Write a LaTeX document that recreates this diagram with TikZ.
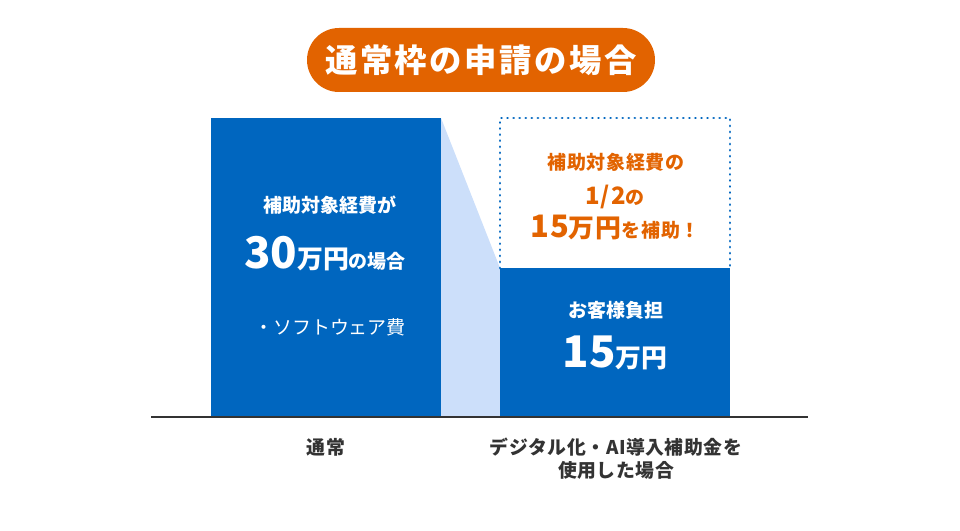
\documentclass[tikz,border=0pt]{standalone}
\usepackage{fontspec}
\setmainfont{Noto Sans CJK JP}
\usepackage{xcolor}
\usepackage{tikz}

\definecolor{hojoBlue}{HTML}{0066BF}
\definecolor{hojoLight}{HTML}{CCDFFA}
\definecolor{hojoOrange}{HTML}{E26300}
\definecolor{hojoText}{HTML}{333333}

\tikzset{
  bartext/.style={text=white,font=\bfseries\fontsize{13.5}{16}\selectfont,align=center,inner sep=0pt},
  ortext/.style={text=hojoOrange,font=\bfseries\fontsize{13.5}{16}\selectfont\addfontfeatures{LetterSpace=4},align=center,inner sep=0pt},
  axlabel/.style={text=hojoText,font=\bfseries\fontsize{13.4}{16.5}\selectfont\addfontfeatures{LetterSpace=3},align=center,inner sep=0pt}
}

\newcommand{\bignum}[1]{{\fontsize{31}{31}\selectfont #1}}
\newcommand{\midnum}[1]{{\fontsize{18.4}{18.4}\selectfont #1}}

\begin{document}
\begin{tikzpicture}[x=0.025cm,y=-0.025cm]

  \useasboundingbox (0,0) rectangle (960,531);

  % Title pill
  \node[fill=hojoOrange,text=white,rounded corners=0.8cm,minimum width=348*0.025cm,
    minimum height=64*0.025cm,inner sep=0pt,
    font=\bfseries\fontsize{23}{23}\selectfont\addfontfeatures{LetterSpace=8}] (title) at (481,60)
    {通常枠の申請の場合};

  % Bars
  \fill[hojoBlue] (211,118) rectangle (441,417);
  \fill[hojoLight] (441,118) -- (441,417) -- (500,417) -- (500,268) -- cycle;
  \fill[hojoBlue] (500,268) rectangle (730,417);

  % Dotted subsidy box
  \draw[hojoBlue,line width=2.1pt,line cap=round,dash pattern=on 0.01pt off 4.3pt]
    (500,268) -- (500,118) -- (730,118) -- (730,268);

  % Base line
  \draw[hojoText,line width=1.4pt] (151,417) -- (808,417);

  % Left bar text
  \node[bartext] (costhead) at (330,205) {補助対象経費が};
  \node[bartext,anchor=base] (costvalue) at (325,268)
    {\bignum{30}\midnum{万円}の場合};
  \node[bartext,font=\fontsize{13.5}{16}\selectfont] (costitem) at (330,327) {・ソフトウェア費};

  % Subsidy text
  \node[ortext] (subhead) at (616,162) {補助対象経費の};
  \node[ortext,anchor=base] (subrate) at (615,204) {{\fontsize{17}{17}\selectfont 1/2}の};
  \node[ortext,anchor=base] (subvalue) at (615,238)
    {{\fontsize{22}{22}\selectfont 15}\midnum{万円}を補助！};

  % Customer share
  \node[bartext] (payhead) at (616,310) {お客様負担};
  \node[bartext,anchor=base] (payvalue) at (615,367) {\bignum{15}\midnum{万円}};

  % Axis labels
  \node[axlabel] (normal) at (326,447) {通常};
  \node[axlabel] (digital) at (616,459) {デジタル化・AI導入補助金を\\使用した場合};

\end{tikzpicture}
\end{document}
